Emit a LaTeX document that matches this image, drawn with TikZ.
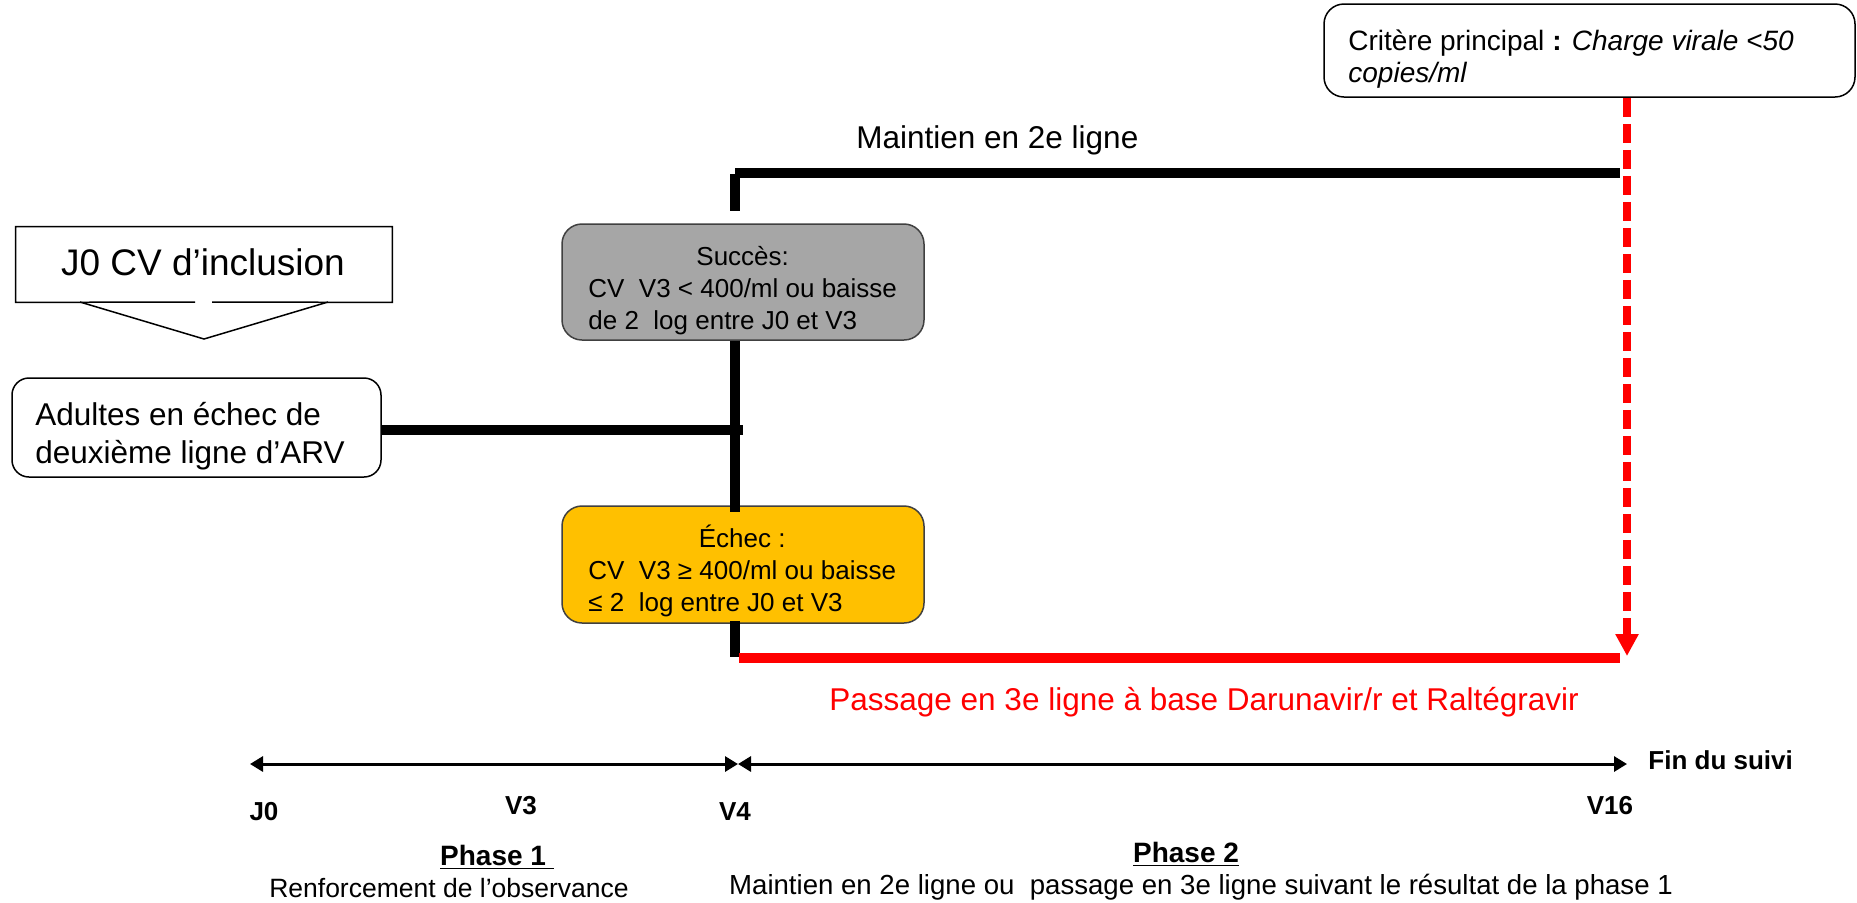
\documentclass[tikz,border=0pt]{standalone}
\usepackage{fontspec}
\setmainfont{Liberation Sans}
\usetikzlibrary{arrows.meta,calc}
\definecolor{boxgray}{HTML}{A6A6A6}
\definecolor{boxorange}{HTML}{FFC000}
\definecolor{boxedge}{HTML}{404040}
\definecolor{linered}{HTML}{FF0000}
\newcommand{\txtlines}[1]{\begin{tabular}[t]{@{}l@{}}#1\end{tabular}}
\tikzset{
  bigtxt/.style={font=\fontsize{15.75}{19}\selectfont, inner sep=0pt},
  boxtxt/.style={font=\fontsize{13}{16}\selectfont, inner sep=0pt},
  crittxt/.style={font=\fontsize{14}{16}\selectfont, inner sep=0pt},
  axlab/.style={font=\bfseries\fontsize{13}{15}\selectfont, inner sep=0pt},
  phlab/.style={font=\bfseries\fontsize{14}{16}\selectfont, inner sep=0pt},
  subtxt/.style={font=\fontsize{13.5}{16}\selectfont, inner sep=0pt},
  frame/.style={draw=black, line width=0.75pt},
  rbox/.style={frame, rounded corners=8.5pt, inner sep=0pt},
  heavy/.style={line width=5pt, line cap=butt},
  redline/.style={linered, line width=5pt, line cap=butt},
  axisline/.style={line width=1.5pt, arrows={Triangle[length=6.5pt,width=7.5pt]-Triangle[length=6.5pt,width=7.5pt]}},
}
\begin{document}
\begin{tikzpicture}[x=0.5pt,y=-0.5pt]
\useasboundingbox[fill=white] (0,0) rectangle (1857,902);

% J0 callout
\node[minimum width=188pt, minimum height=37.5pt, inner sep=0pt] (j0) at (204,264.5) {};
\coordinate (gapl) at (195,302);
\coordinate (gapr) at (212,302);
\coordinate (pl) at (80,302);
\coordinate (ptip) at (204,339);
\coordinate (pr) at (328,302);
\draw[frame] (gapl) -- (j0.south west) -- (j0.north west) -- (j0.north east) -- (j0.south east) -- (gapr);
\draw[frame] (pl) -- (ptip) -- (pr);
\node[font=\fontsize{18.5}{22}\selectfont, inner sep=0pt, anchor=base] (j0t) at (203,275) {J0 CV d’inclusion};

% Adultes box
\node[rbox, fill=white, minimum width=184.5pt, minimum height=49.5pt] (adult) at (196.5,427.5) {};
\node[bigtxt, anchor=base west] (adultt) at (35,425) {\txtlines{Adultes en échec de\\deuxième ligne d’ARV}};

% Succès box
\node[rbox, rounded corners=10pt, draw=boxedge, fill=boxgray, minimum width=181pt, minimum height=58pt] (succ) at (743,282) {};
\node[boxtxt, anchor=base west] (succt) at (588,265) {\txtlines{\multicolumn{1}{@{}c@{}}{Succès:}\\CV~~V3 < 400/ml ou baisse\\de 2~~log entre J0 et V3}};

% Echec box
\node[rbox, rounded corners=10pt, draw=boxedge, fill=boxorange, minimum width=181pt, minimum height=58.5pt] (echec) at (743,564.5) {};
\node[boxtxt, anchor=base west] (echect) at (588,547) {\txtlines{\multicolumn{1}{@{}c@{}}{Échec :}\\CV~~V3 ≥ 400/ml ou baisse\\≤ 2~~log entre J0 et V3}};

% Critere box
\node[rbox, rounded corners=10pt, fill=white, minimum width=265.5pt, minimum height=46.5pt] (crit) at (1589.5,50.5) {};
\node[crittxt, anchor=base west] (critt) at (1348,50) {\txtlines{Critère principal \textbf{:} \textit{Charge virale <50}\\\textit{copies/ml}}};

% spine and branches
\coordinate (sptop) at (735,174);
\coordinate (mstart) at (735,173);
\coordinate (mend) at (1620,173);
\coordinate (spbot) at (735,657);
\coordinate (rstart) at (739,658);
\coordinate (rend) at (1620,658);
\coordinate (hj) at (743,430);
\draw[heavy] (mstart) -- (mend);
\draw[heavy] (sptop) -- ($(succ.north -| sptop)+(0,-12)$);
\draw[heavy] (succ.south -| sptop) -- ($(echec.north -| sptop)+(0,7)$);
\draw[heavy] ($(echec.south -| sptop)+(0,-3)$) -- (spbot);
\draw[heavy] (adult.east |- hj) -- (hj);
\draw[redline] (rstart) -- (rend);

% red dashed arrow
\coordinate (rtip) at (1627,656);
\draw[linered, line width=4pt, dash pattern=on 9.5pt off 3.5pt, -{Triangle[length=11pt,width=11pt]}] (crit.south -| rtip) -- (rtip);

% labels
\node[bigtxt, anchor=base west] (maint) at (856,148) {Maintien en 2e ligne};
\node[bigtxt, text=linered, anchor=base west] (pass) at (829,710) {Passage en 3e ligne à base Darunavir/r et Raltégravir};

% time axis
\coordinate (ax0) at (250,764);
\coordinate (axm) at (738,764);
\coordinate (ax1) at (1627,764);
\draw[axisline] (ax0) -- (axm);
\draw[axisline] (axm) -- (ax1);
\node[axlab, anchor=base] (lj0) at (264,820) {J0};
\node[axlab, anchor=base] (lv3) at (521,814) {V3};
\node[axlab, anchor=base] (lv4) at (735,820) {V4};
\node[axlab, anchor=base] (lv16) at (1610,814) {V16};
\node[axlab, anchor=base west] (fin) at (1648,769) {Fin du suivi};

\node[phlab, anchor=base] (ph1) at (497,865) {\underline{Phase 1\ }};
\node[subtxt, font=\fontsize{13.25}{16}\selectfont, anchor=base] (ph1t) at (449,897) {Renforcement de l’observance};
\node[phlab, anchor=base] (ph2) at (1186,862) {\underline{Phase 2}};
\node[subtxt, font=\fontsize{13.8}{16}\selectfont, anchor=base] (ph2t) at (1201,894) {Maintien en 2e ligne ou~~passage en 3e ligne suivant le résultat de la phase 1};
\end{tikzpicture}
\end{document}
